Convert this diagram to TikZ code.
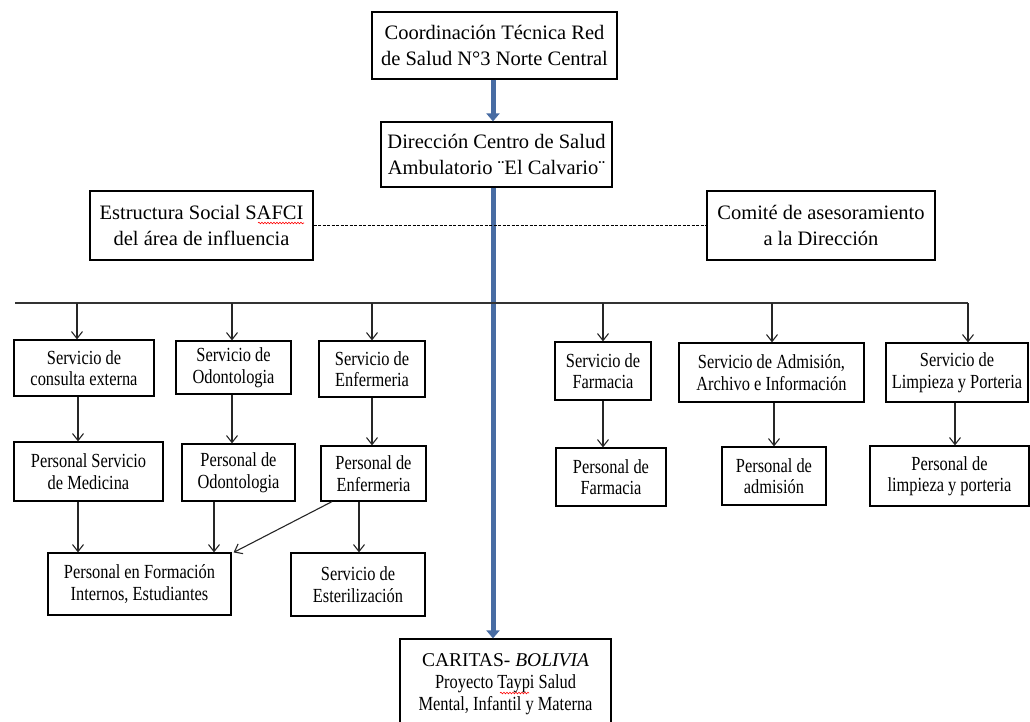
\documentclass[tikz,border=0pt]{standalone}
\usepackage{fontspec}
\setmainfont{Liberation Serif}
\newfontfamily\condf[FakeStretch=0.82]{Liberation Serif}
\usetikzlibrary{arrows.meta,decorations.pathmorphing}
\definecolor{myblue}{RGB}{72,108,163}
\begin{document}
\begin{tikzpicture}[x=1pt,y=-1pt,
  box/.style={draw=black, line width=1.2pt, fill=white, align=center, inner sep=0pt},
  bigbox/.style={box, font=\fontsize{20.5}{26.5}\selectfont},
  smallbox/.style={box, font=\condf\fontsize{20}{21.5}\selectfont},
  arr/.style={-{Straight Barb[length=7pt,width=11pt]}, line width=1.1pt, draw=black!85},
  bluearr/.style={line width=5pt, draw=myblue, -{Triangle[length=8pt,width=13pt]}},
  busline/.style={line width=1.1pt, draw=black!80},
  dashline/.style={line width=1.2pt, dash pattern=on 3pt off 1.5pt},
  squig/.style={draw=red, line width=0.6pt, decorate, decoration={snake, amplitude=0.8pt, segment length=3pt}}]
\useasboundingbox (0,0) rectangle (1030,721);

% top level
\node[bigbox, minimum width=245, minimum height=67] (top) at (494.5,45.5) {Coordinación Técnica Red\\de Salud N°3 Norte Central};
\node[bigbox, minimum width=231, minimum height=65] (dir) at (496.5,154.5) {Dirección Centro de Salud\\Ambulatorio ¨El Calvario¨};
\node[bigbox, minimum width=223, minimum height=69] (est) at (201.5,225.5) {Estructura Social SAFCI\\del área de influencia};
\node[bigbox, minimum width=228, minimum height=69] (com) at (821,225.5) {Comité de asesoramiento\\a la Dirección};

% services
\node[smallbox, minimum width=140, minimum height=56] (s1) at (84,368) {Servicio de\\consulta externa};
\node[smallbox, minimum width=115, minimum height=53] (s2) at (233.5,367.5) {Servicio de\\Odontologia};
\node[smallbox, minimum width=106, minimum height=56] (s3) at (372,369) {Servicio de\\Enfermeria};
\node[smallbox, minimum width=96, minimum height=58] (s4) at (603,371) {Servicio de\\Farmacia};
\node[smallbox, minimum width=185, minimum height=59] (s5) at (771.5,372.5) {Servicio de Admisión,\\Archivo e Información};
\node[smallbox, minimum width=142, minimum height=59] (s6) at (957,372.5) {Servicio de\\Limpieza y Porteria};

% personnel
\node[smallbox, minimum width=149, minimum height=59] (p1) at (88.5,471.5) {Personal Servicio\\de Medicina};
\node[smallbox, minimum width=113, minimum height=57] (p2) at (238.5,472.5) {Personal de\\Odontologia};
\node[smallbox, minimum width=105, minimum height=55] (p3) at (373.5,473.5) {Personal de\\Enfermeria};
\node[smallbox, minimum width=110, minimum height=58] (p4) at (611,477) {Personal de\\Farmacia};
\node[smallbox, minimum width=104, minimum height=58] (p5) at (774,476) {Personal de\\admisión};
\node[smallbox, minimum width=159, minimum height=60] (p6) at (949.5,476) {Personal de\\limpieza y porteria};

% third row
\node[smallbox, minimum width=183, minimum height=62] (f) at (139.5,584) {Personal en Formación\\Internos, Estudiantes};
\node[smallbox, minimum width=134, minimum height=63] (e) at (358,584.5) {Servicio de\\Esterilización};

% caritas
\node[smallbox, minimum width=211, minimum height=90] (car) at (505.5,684) {{\rmfamily\fontsize{19.5}{22}\selectfont CARITAS- \textit{BOLIVIA}}\\[1pt]Proyecto Taypi Salud\\Mental, Infantil y Materna};

% blue main line
\draw[bluearr] ([xshift=-1.5pt]top.south) -- ([xshift=-1.5pt]top.south |- dir.north);
\draw[bluearr] ([xshift=-3.5pt]dir.south) -- ([xshift=-3.5pt]dir.south |- car.north);

% dashed
\draw[dashline] (est.east) -- (com.west);

% bus
\coordinate (busL) at (15,303);
\coordinate (busR) at (968,303);
\draw[busline] (busL) -- (busR);
\coordinate (d1) at (77,303);
\coordinate (d2) at (232,303);
\coordinate (d3) at (372,303);
\coordinate (d4) at (603,303);
\coordinate (d5) at (772,303);
\draw[arr] (d1) -- (d1 |- s1.north);
\draw[arr] (d2) -- (d2 |- s2.north);
\draw[arr] (d3) -- (d3 |- s3.north);
\draw[arr] (d4) -- (d4 |- s4.north);
\draw[arr] (d5) -- (d5 |- s5.north);
\draw[arr] (busR) -- (busR |- s6.north);

% service -> personnel
\draw[arr] ([xshift=-6pt]s1.south) -- ([xshift=-6pt]s1.south |- p1.north);
\draw[arr] ([xshift=-1.5pt]s2.south) -- ([xshift=-1.5pt]s2.south |- p2.north);
\draw[arr] (s3.south) -- (s3.south |- p3.north);
\draw[arr] (s4.south) -- (s4.south |- p4.north);
\draw[arr] ([xshift=2.5pt]s5.south) -- ([xshift=2.5pt]s5.south |- p5.north);
\draw[arr] ([xshift=-2pt]s6.south) -- ([xshift=-2pt]s6.south |- p6.north);

% personnel -> third row
\draw[arr] ([xshift=-10.5pt]p1.south) -- ([xshift=-10.5pt]p1.south |- f.north);
\draw[arr] ([xshift=-24.5pt]p2.south) -- ([xshift=-24.5pt]p2.south |- f.north);
\draw[arr] ([xshift=-41.5pt]p3.south) -- ([xshift=2pt]f.north east);
\draw[arr] ([xshift=-14.5pt]p3.south) -- ([xshift=-14.5pt]p3.south |- e.north);

% spell-check marks
\draw[squig] (258,223) -- (304,223);
\draw[squig] (500,693) -- (529,693);
\end{tikzpicture}
\end{document}
